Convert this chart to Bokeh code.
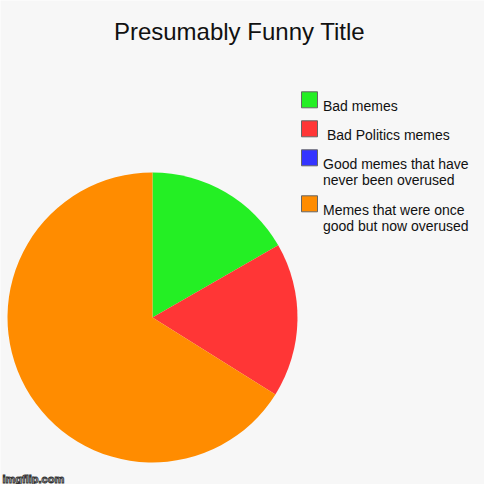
import numpy as np
from bokeh.plotting import figure
from bokeh.models import ColumnDataSource, Label
from bokeh.core.properties import value
from bokeh.embed import file_html
from bokeh.resources import INLINE

# ---- data ----
title_text = "Presumably Funny Title"
categories = [
    "Bad memes",
    "\u00a0Bad Politics memes",
    "Good memes that have\nnever been overused",
    "Memes that were once\ngood but now overused",
]
values = [16.7, 17.2, 0.0, 66.1]
colors = ["#24ef24", "#ff3636", "#3434ff", "#ff8c00"]
watermark = "imgflip.com"

# ---- layout (canvas px -> data; data y = 484 - canvas y) ----
W = H = 484
FONT = "Liberation Sans"
BG = "#f7f7f7"

p = figure(width=W, height=H, x_range=(0, W), y_range=(0, H),
           x_axis_type=None, y_axis_type=None, title=None,
           toolbar_location=None, output_backend="svg", min_border=0)
p.background_fill_color = BG
p.border_fill_color = BG
p.outline_line_color = None
p.grid.visible = False

def Y(canvas_y):
    return H - canvas_y

# pie
cx, cy, r = 152, Y(317), 145
vals = np.array(values, dtype=float)
frac = vals / vals.sum()
cum = np.concatenate([[0.0], np.cumsum(frac)])
start = np.pi / 2 - 2 * np.pi * cum[:-1]
end = np.pi / 2 - 2 * np.pi * cum[1:]
mask = vals > 0
pie_src = ColumnDataSource(dict(
    start=start[mask], end=end[mask],
    color=[c for c, m in zip(colors, mask) if m],
))
p.wedge(x=cx, y=cy, radius=r, start_angle="start", end_angle="end",
        direction="clock", fill_color="color", line_color=None, source=pie_src)

# title
p.add_layout(Label(x=239, y=Y(31), text=title_text, text_align="center",
                   text_baseline="alphabetic", text_font=FONT,
                   text_font_size="24px", text_color="#111111"))

# legend
sw_x, sw_size = 309, 16
txt_x = 322.5
top = 91.3  # canvas y of first swatch top
sx, sy, sc = [], [], []
tx, ty, tt = [], [], []
for cat, col in zip(categories, colors):
    lines = cat.split("\n")
    sx.append(sw_x)
    sy.append(Y(top + sw_size / 2))
    sc.append(col)
    for i, ln in enumerate(lines):
        tx.append(txt_x)
        ty.append(Y(top + 14 + 16 * i))
        tt.append(ln)
    top += 29 + 17 * (len(lines) - 1)

p.rect(x="x", y="y", width=sw_size, height=sw_size, fill_color="c",
       line_color="#666666", line_width=1,
       source=ColumnDataSource(dict(x=sx, y=sy, c=sc)))
p.text(x="x", y="y", text="t", text_font=value(FONT), text_font_size="14px",
       text_baseline="alphabetic", text_align="left", text_color="#111111",
       source=ColumnDataSource(dict(x=tx, y=ty, t=tt)))

# watermark
p.text(x=[2], y=[Y(478)], text=[watermark], text_font=value(FONT),
       text_font_size="11px", text_font_style="bold", text_color="white",
       text_outline_color="#333333", text_baseline="alphabetic")

open("out.html", "w").write(file_html(p, INLINE))
